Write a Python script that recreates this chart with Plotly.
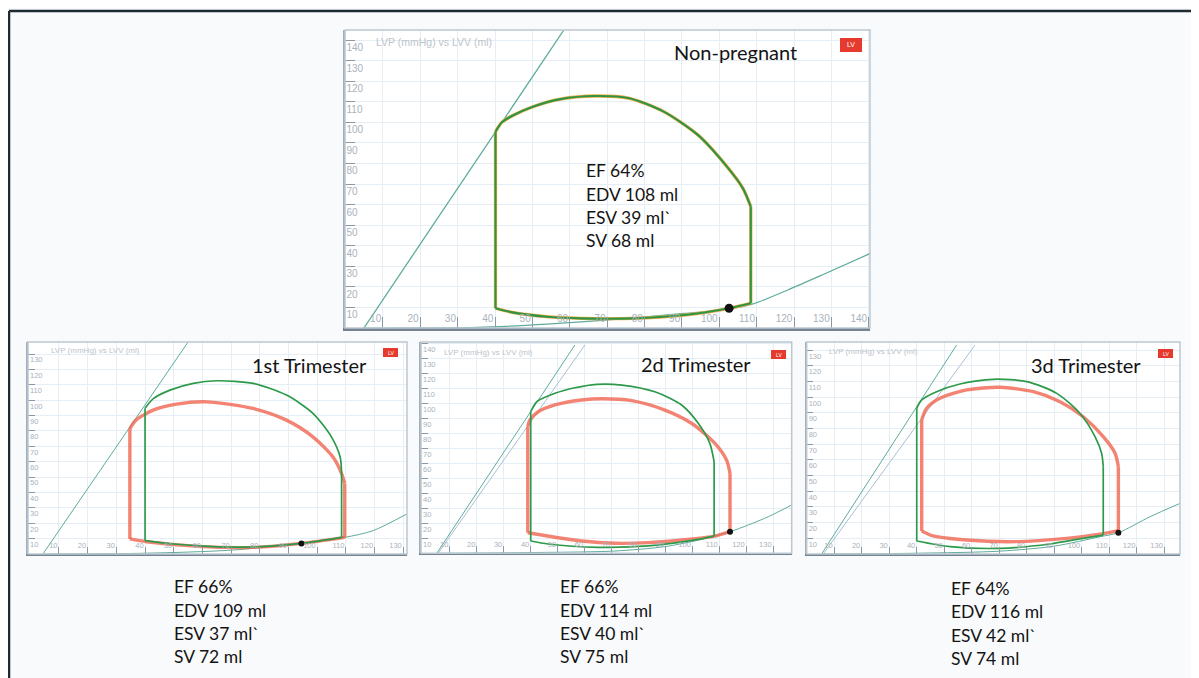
import plotly.graph_objects as go

# ---------------- data (LV volume in ml, LV pressure in mmHg) ----------------
tick_vals_x = [10, 20, 30, 40, 50, 60, 70, 80, 90, 100, 110, 120, 130, 140]
tick_vals_y = [10, 20, 30, 40, 50, 60, 70, 80, 90, 100, 110, 120, 130, 140]

# Non-pregnant panel
np_loop_v = [40.1, 44.6, 53.8, 63.0, 76.8, 90.6, 102.6, 108.4, 108.4, 106.3, 101.7, 94.3, 85.1, 75.9, 66.7, 57.5, 50.1, 44.6, 41.8, 40.1, 40.1]
np_loop_p = [9.6, 7.6, 5.5, 4.7, 4.7, 6.3, 9.6, 12.0, 59.0, 67.9, 79.2, 93.8, 105.2, 111.7, 112.8, 111.3, 107.6, 103.2, 100.0, 95.4, 9.6]
np_espvr_v = [4.9, 58.4]
np_espvr_p = [0, 144.9]
np_edpvr_v = [4.9, 35.3, 53.8, 72.2, 90.6, 102.6, 109.0, 118.3, 127.5, 140.4]
np_edpvr_p = [0, 0.3, 1.9, 4.2, 7.1, 9.1, 11.7, 18.5, 25.8, 36.3]
np_dot = (102.6, 9.6)

# 1st trimester panel
t1_ref_v = [40.0, 50.0, 62.0, 77.0, 94.5, 108.5, 108.5, 108.0, 105.0, 98.6, 89.3, 77.7, 64.9, 56.8, 48.7, 42.9, 40.0, 40.0]
t1_ref_p = [8.7, 6.5, 5.0, 4.5, 6.9, 10.8, 52.0, 63.0, 76.0, 91.3, 103.3, 110.9, 112.6, 110.9, 106.5, 101.0, 94.8, 8.7]
t1_loop_v = [34.7, 40.5, 60.0, 77.6, 94.5, 109.6, 109.6, 108.5, 105.5, 98.6, 89.3, 77.7, 61.5, 51.0, 42.8, 36.8, 34.7, 34.7]
t1_loop_p = [9.8, 8.0, 4.8, 4.3, 6.9, 10.8, 45.8, 52.3, 63.0, 76.0, 87.0, 94.6, 98.9, 97.4, 93.5, 87.0, 81.5, 9.8]
t1_espvr_v = [4.4, 55.0]
t1_espvr_p = [0, 137.8]
t1_edpvr_v = [5.0, 40.0, 70.0, 94.5, 109.6, 119.5, 131.2]
t1_edpvr_p = [0, 0.5, 2.5, 6.9, 10.8, 15.2, 26.0]
t1_dot = (94.5, 6.9)

# 2d trimester panel
t2_ref_v = [40.0, 46.5, 65.1, 83.6, 102.2, 108.1, 108.1, 106.5, 102.2, 96.0, 86.1, 73.8, 64.5, 56.4, 49.0, 42.2, 40.0, 40.0]
t2_ref_p = [8.2, 6.2, 4.0, 4.9, 9.3, 11.5, 61.0, 73.3, 86.7, 98.9, 107.7, 112.2, 112.7, 110.4, 106.7, 101.0, 94.4, 8.2]
t2_loop_v = [38.9, 49.0, 58.9, 71.3, 83.6, 96.0, 108.4, 114.0, 114.0, 112.7, 108.4, 99.7, 89.8, 77.5, 66.3, 58.9, 49.0, 42.8, 39.7, 38.9, 38.9]
t2_loop_p = [13.7, 10.7, 8.2, 6.7, 7.1, 8.9, 11.5, 14.4, 53.3, 62.2, 73.3, 86.7, 95.5, 101.8, 103.1, 102.2, 98.9, 94.4, 88.9, 84.4, 13.7]
t2_espvr_ref_v = [5.1, 56.4]
t2_espvr_v = [5.6, 60.1]
t2_espvr_p = [0, 138.9]
t2_edpvr_v = [6.0, 40.0, 71.0, 90.0, 104.0, 114.0, 120.8, 128.2, 136.9]
t2_edpvr_p = [0, 0.5, 1.5, 4.5, 9.5, 14.4, 18.9, 24.4, 32.2]
t2_dot = (114.0, 14.4)

# 3d trimester panel
t3_ref_v = [40.0, 52.1, 70.3, 88.4, 100.5, 107.8, 107.8, 107.2, 104.8, 99.3, 90.9, 80.0, 67.8, 55.7, 47.2, 41.8, 40.0, 40.0]
t3_ref_p = [8.3, 4.7, 3.6, 6.4, 10.0, 12.1, 55.7, 64.3, 74.9, 89.8, 102.5, 110.0, 111.5, 108.5, 103.6, 98.3, 93.0, 8.3]
t3_loop_v = [41.8, 46.0, 58.1, 76.3, 94.5, 106.6, 113.3, 113.3, 112.1, 107.8, 100.5, 92.1, 82.4, 70.3, 58.1, 48.4, 43.6, 41.8, 41.8]
t3_loop_p = [14.7, 11.5, 8.9, 7.9, 10.0, 12.6, 14.9, 55.7, 64.3, 74.9, 87.6, 97.2, 103.6, 106.4, 104.7, 99.4, 93.0, 85.5, 14.7]
t3_espvr_ref_v = [5.4, 54.5]
t3_espvr_v = [6.0, 61.2]
t3_espvr_p = [0, 133.4]
t3_edpvr_v = [6.0, 40.0, 70.0, 90.0, 106.6, 113.3, 124.8, 135.7]
t3_edpvr_p = [0, 0.5, 1.8, 5.0, 11.0, 13.6, 23.8, 32.3]
t3_dot = (113.3, 13.6)

titles = ["Non-pregnant", "1st Trimester", "2d Trimester", "3d Trimester"]
np_stats = ["EF 64%", "EDV 108 ml", "ESV 39 ml`", "SV 68 ml"]
t1_stats = ["EF 66%", "EDV 109 ml", "ESV 37 ml`", "SV 72 ml"]
t2_stats = ["EF 66%", "EDV 114 ml", "ESV 40 ml`", "SV 75 ml"]
t3_stats = ["EF 64%", "EDV 116 ml", "ESV 42 ml`", "SV 74 ml"]
axis_caption = "LVP (mmHg) vs LVV (ml)"
badge_text = "LV"

# ---------------- styling ----------------
# the page body has an 8px margin, so the figure is 8px smaller and offset
OFF = 8
W, H = 1199 - OFF, 678 - OFF
GREEN = "#2c9a4a"
RED = "rgba(240,98,76,0.78)"
TEAL = "#5eab9c"
GREYBLUE = "#a9bfd4"
FONT = "Lato, 'Open Sans', Arial, sans-serif"


def px(x):
    return (x - OFF) / W


def py(y):
    return 1 - (y - OFF) / H


panels = [
    dict(sfx="", frame=(345, 30, 870, 328), xr=[-0.16, 140.3], yr=[0, 144.9], big=True,
         title=(672, 52), stats=(584, 170.7), stats_txt=np_stats, badge=(840, 38, 862, 52),
         cap=(374, 42)),
    dict(sfx="2", frame=(28, 342, 407, 554), xr=[-0.8, 131.3], yr=[0, 137.8], big=False,
         title=(250, 365), stats=(172, 586.7), stats_txt=t1_stats, badge=(383, 348, 398, 357),
         cap=(49, 350)),
    dict(sfx="3", frame=(421, 342, 791.7, 553.3), xr=[-0.74, 136.9], yr=[0, 140.9], big=False,
         title=(639, 364), stats=(558, 586.7), stats_txt=t2_stats, badge=(771, 350, 786, 359),
         cap=(442, 352)),
    dict(sfx="4", frame=(806.7, 342, 1180, 554), xr=[0, 135.7], yr=[0, 135.3], big=False,
         title=(1029, 365), stats=(949, 588.5), stats_txt=t3_stats, badge=(1158, 349, 1173, 358),
         cap=(827, 351)),
]

panel_traces = [
    [("line", np_espvr_v, np_espvr_p, TEAL, 1.3),
     ("line", np_edpvr_v, np_edpvr_p, TEAL, 1.2),
     ("loop", np_loop_v, np_loop_p, "#f2ae4a", 3.3),
     ("loop", np_loop_v, np_loop_p, "#2f9444", 2.1),
     ("dot", [np_dot[0]], [np_dot[1]], "#111111", 9)],
    [("line", t1_espvr_v, t1_espvr_p, TEAL, 1.0),
     ("line", t1_edpvr_v, t1_edpvr_p, TEAL, 1.0),
     ("loop", t1_loop_v, t1_loop_p, RED, 3.4),
     ("loop", t1_ref_v, t1_ref_p, GREEN, 1.7),
     ("dot", [t1_dot[0]], [t1_dot[1]], "#111111", 6)],
    [("line", t2_espvr_ref_v, t2_espvr_p, TEAL, 1.0),
     ("line", t2_espvr_v, t2_espvr_p, GREYBLUE, 1.0),
     ("line", t2_edpvr_v, t2_edpvr_p, TEAL, 1.0),
     ("loop", t2_loop_v, t2_loop_p, RED, 3.4),
     ("loop", t2_ref_v, t2_ref_p, GREEN, 1.7),
     ("dot", [t2_dot[0]], [t2_dot[1]], "#111111", 6)],
    [("line", t3_espvr_ref_v, t3_espvr_p, TEAL, 1.0),
     ("line", t3_espvr_v, t3_espvr_p, GREYBLUE, 1.0),
     ("line", t3_edpvr_v, t3_edpvr_p, TEAL, 1.0),
     ("loop", t3_loop_v, t3_loop_p, RED, 3.4),
     ("loop", t3_ref_v, t3_ref_p, GREEN, 1.7),
     ("dot", [t3_dot[0]], [t3_dot[1]], "#111111", 6)],
]


def loop_pieces(xs, ys):
    """Split a loop into curved runs (spline) and vertical isovolumic runs (straight)."""
    pieces = []
    cur = [0]
    cur_vert = None
    for i in range(len(xs) - 1):
        vert = xs[i] == xs[i + 1]
        if cur_vert is None or vert == cur_vert:
            cur.append(i + 1)
        else:
            pieces.append((cur_vert, cur))
            cur = [i, i + 1]
        cur_vert = vert
    pieces.append((cur_vert, cur))
    return pieces


fig = go.Figure()
shapes = []
annotations = []
layout_axes = {}

for i, (p, trs) in enumerate(zip(panels, panel_traces)):
    sfx = p["sfx"]
    x0, y0, x1, y1 = p["frame"]
    big = p["big"]
    tfs = 10 if big else 7.5
    layout_axes["xaxis" + sfx] = dict(
        domain=[px(x0), px(x1)], range=p["xr"], anchor="y" + sfx,
        tickvals=tick_vals_x, ticktext=[str(v) for v in tick_vals_x],
        ticks="inside", ticklen=11 if big else 7, tickwidth=1, tickcolor="#8c99a5",
        ticklabelposition="inside left", tickfont=dict(size=tfs, color="#a9b2bb", family="Arial"),
        showgrid=True, gridcolor="#e4eef4", gridwidth=1, zeroline=False,
        showline=True, linecolor="#74838f", linewidth=2.5 if big else 2, fixedrange=True,
    )
    layout_axes["yaxis" + sfx] = dict(
        domain=[py(y1), py(y0)], range=p["yr"], anchor="x" + sfx,
        tickvals=tick_vals_y, ticktext=[str(v) for v in tick_vals_y],
        ticks="inside", ticklen=10 if big else 7, tickwidth=1, tickcolor="#8c99a5",
        ticklabelposition="inside bottom", tickfont=dict(size=tfs, color="#a9b2bb", family="Arial"),
        showgrid=True, gridcolor="#e4eef4", gridwidth=1, zeroline=False,
        showline=True, linecolor="#a2afba", linewidth=1.5, fixedrange=True,
    )
    for kind, xs, ys, col, w in trs:
        common = dict(xaxis="x" + sfx, yaxis="y" + sfx, showlegend=False, hoverinfo="skip")
        if kind == "dot":
            fig.add_trace(go.Scatter(x=xs, y=ys, mode="markers",
                                     marker=dict(color=col, size=w), **common))
        elif kind == "loop":
            for vert, idx in loop_pieces(xs, ys):
                fig.add_trace(go.Scatter(
                    x=[xs[j] for j in idx], y=[ys[j] for j in idx], mode="lines",
                    line=dict(color=col, width=w, shape="linear" if vert else "spline",
                              smoothing=0.75), **common))
        else:
            fig.add_trace(go.Scatter(x=xs, y=ys, mode="lines",
                                     line=dict(color=col, width=w, shape="spline", smoothing=0.8),
                                     **common))
    # frame
    shapes.append(dict(type="rect", xref="paper", yref="paper", x0=px(x0), x1=px(x1), y0=py(y1), y1=py(y0),
                       line=dict(color="#bcc7d0", width=1.5), fillcolor="rgba(0,0,0,0)", layer="above"))
    # LV badge
    bx0, by0, bx1, by1 = p["badge"]
    shapes.append(dict(type="rect", xref="paper", yref="paper", x0=px(bx0), x1=px(bx1), y0=py(by1), y1=py(by0),
                       line=dict(width=0), fillcolor="#e63a2e", layer="above"))
    annotations.append(dict(xref="paper", yref="paper", x=px((bx0 + bx1) / 2), y=py((by0 + by1) / 2),
                            text=badge_text, showarrow=False, xanchor="center", yanchor="middle",
                            font=dict(size=7 if big else 5, color="white", family="Arial")))
    # caption
    cx, cy = p["cap"]
    annotations.append(dict(xref="paper", yref="paper", x=px(cx), y=py(cy), text=axis_caption,
                            showarrow=False, xanchor="left", yanchor="middle",
                            font=dict(size=10.5 if big else 8, color="#bcc3ca", family="Arial")))
    # title
    tx, ty = p["title"]
    annotations.append(dict(xref="paper", yref="paper", x=px(tx), y=py(ty), text=titles[i],
                            showarrow=False, xanchor="left", yanchor="middle",
                            font=dict(size=20, color="#141414", family=FONT)))
    # stats
    sx, sy = p["stats"]
    for k, line in enumerate(p["stats_txt"]):
        annotations.append(dict(xref="paper", yref="paper", x=px(sx), y=py(sy + k * 23.4), text=line,
                                showarrow=False, xanchor="left", yanchor="middle",
                                font=dict(size=17.5, color="#141414", family=FONT)))

# outer border (top and left)
shapes.append(dict(type="line", xref="paper", yref="paper", x0=px(9), x1=1, y0=py(11), y1=py(11),
                   line=dict(color="#1d2a31", width=2.5)))
shapes.append(dict(type="line", xref="paper", yref="paper", x0=px(9), x1=px(9), y0=py(11), y1=0,
                   line=dict(color="#1d2a31", width=2.5)))

fig.update_layout(
    width=W, height=H, margin=dict(l=0, r=0, t=0, b=0),
    paper_bgcolor="#f9fafc", plot_bgcolor="#ffffff",
    showlegend=False, shapes=shapes, annotations=annotations,
    **layout_axes,
)

fig.write_html("out.html", config=dict(displayModeBar=False))
